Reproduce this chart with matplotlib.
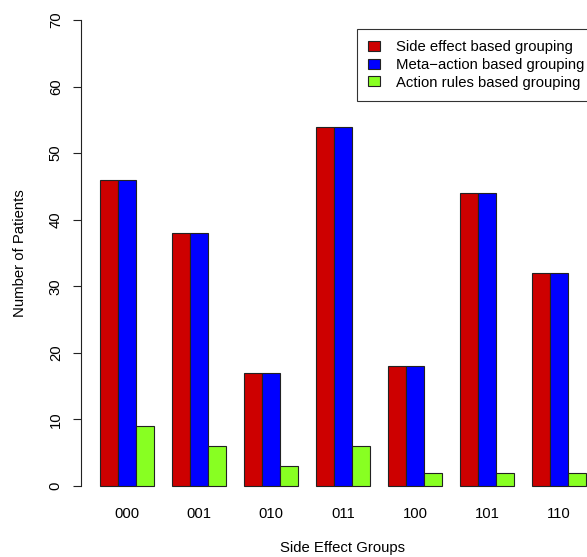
import numpy as np
import matplotlib
matplotlib.use('Agg')
import matplotlib.pyplot as plt

# --- Data ---
groups = ['000', '001', '010', '011', '100', '101', '110']
side_effect = [46, 38, 17, 54, 18, 44, 32]
meta_action = [46, 38, 17, 54, 18, 44, 32]
action_rules = [9, 6, 3, 6, 2, 2, 2]

series_labels = ['Side effect based grouping',
                 'Meta\u2212action based grouping',
                 'Action rules based grouping']
series_colors = ['#CD0000', '#0000FF', '#88FF22']

plt.rcParams['font.family'] = ['Liberation Sans', 'DejaVu Sans']
FS = 10.7  # ~15 px at 100 dpi

W, H = 587, 557
fig = plt.figure(figsize=(W / 100, H / 100), dpi=100)

# plot region in pixels (R style barplot, cropped on the right)
left, right, top, bottom = 80.6, 605.4, 1.4, 504.6
ax = fig.add_axes([left / W, 1 - bottom / H, (right - left) / W, (bottom - top) / H])

# --- Bars (R barplot beside=TRUE: width 1, space c(0,1)) ---
n_groups = len(groups)
base = 1 + 4 * np.arange(n_groups)
for j, vals in enumerate([side_effect, meta_action, action_rules]):
    ax.bar(base + j, vals, width=1, align='edge', color=series_colors[j],
           edgecolor='#222222', linewidth=0.8, label=series_labels[j])

ax.set_xlim(-0.08, 29.08)
ax.set_ylim(-2.8, 72.8)

for s in ['top', 'right', 'bottom']:
    ax.spines[s].set_visible(False)
ax.spines['left'].set_bounds(0, 70)
ax.spines['left'].set_linewidth(0.8)
ax.spines['left'].set_color('#222222')

ax.set_yticks(np.arange(0, 71, 10))
ax.set_yticklabels([str(v) for v in range(0, 71, 10)], rotation=90,
                   va='center', fontsize=FS)
ax.tick_params(axis='y', length=5.8, width=0.8, color='#222222', pad=7.0)

ax.set_xticks(base + 1.5)
ax.set_xticklabels(groups, fontsize=FS)
ax.tick_params(axis='x', length=0, pad=1.5)

# axis titles
fig.text(343 / W, 1 - 552 / H, 'Side Effect Groups', ha='center', va='baseline', fontsize=FS)
fig.text(19.8 / W, 1 - 253 / H, 'Number of Patients', ha='center', va='center',
         rotation=90, fontsize=FS)

leg = ax.legend(loc='upper left', bbox_to_anchor=(357 / W, 1 - 29 / H),
                bbox_transform=fig.transFigure, borderaxespad=0,
                fontsize=FS, fancybox=False, frameon=True,
                handlelength=0.8, handleheight=0.65, handletextpad=1.05,
                labelspacing=0.25, borderpad=0.75)
leg.get_frame().set_edgecolor('black')
leg.get_frame().set_linewidth(0.8)
for p in leg.get_patches():
    p.set_linewidth(0.8)

fig.savefig('out.png', dpi=100)
